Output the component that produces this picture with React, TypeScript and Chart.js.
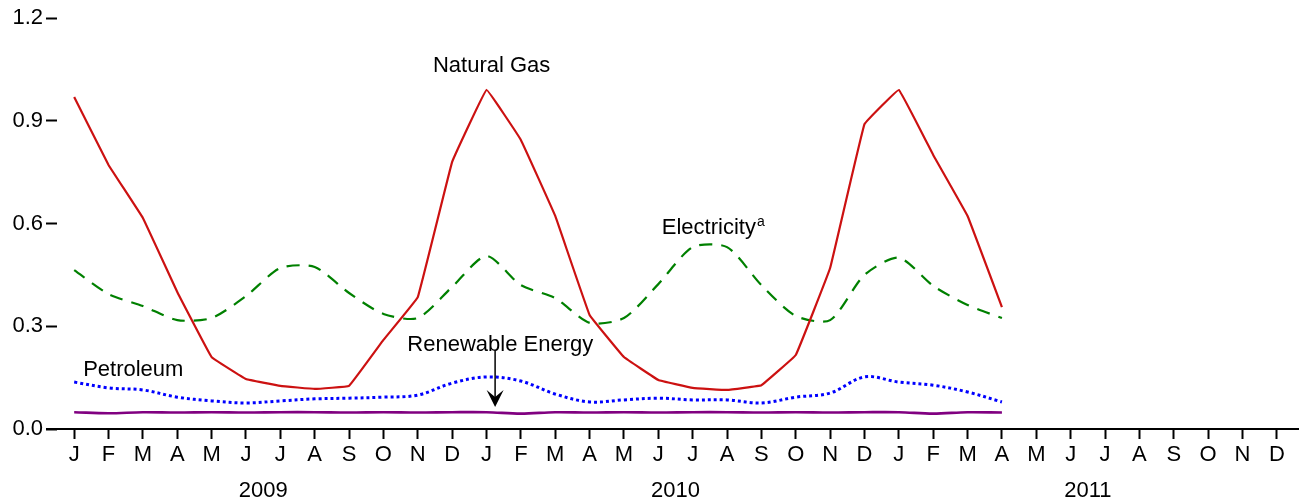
import React, { useEffect, useRef } from "react";
import { Chart, registerables } from "chart.js";

Chart.register(...registerables);

const monthLetters = ["J", "F", "M", "A", "M", "J", "J", "A", "S", "O", "N", "D"];
const years = ["2009", "2010", "2011"];
const categories = [...monthLetters, ...monthLetters, ...monthLetters];

const naturalGas = [
  0.969, 0.771, 0.616, 0.40, 0.21, 0.146, 0.126, 0.117, 0.126, 0.26, 0.385, 0.78,
  0.99, 0.844, 0.622, 0.333, 0.21, 0.143, 0.12, 0.114, 0.128, 0.216, 0.47, 0.89,
  0.99, 0.80, 0.622, 0.356,
];
const electricity = [
  0.464, 0.394, 0.359, 0.318, 0.324, 0.388, 0.47, 0.473, 0.397, 0.336, 0.324, 0.415,
  0.505, 0.42, 0.382, 0.31, 0.324, 0.423, 0.531, 0.531, 0.42, 0.33, 0.318, 0.45,
  0.50, 0.418, 0.362, 0.324,
];
const petroleum = [
  0.137, 0.12, 0.114, 0.093, 0.082, 0.076, 0.082, 0.088, 0.09, 0.093, 0.099, 0.134,
  0.152, 0.14, 0.102, 0.079, 0.085, 0.09, 0.085, 0.085, 0.076, 0.093, 0.105, 0.152,
  0.137, 0.128, 0.108, 0.079,
];
const renewable = [
  0.049, 0.046, 0.049, 0.048, 0.049, 0.048, 0.049, 0.049, 0.048, 0.049, 0.048, 0.049,
  0.049, 0.045, 0.049, 0.048, 0.049, 0.048, 0.049, 0.049, 0.048, 0.049, 0.048, 0.049,
  0.049, 0.045, 0.049, 0.048,
];
const yTicks = [0, 0.3, 0.6, 0.9, 1.2];

// label annotations: [text, category index, value]
const seriesLabels: [string, number, number][] = [
  ["Natural Gas", 12.15, 1.06],
  ["Petroleum", 1.72, 0.172],
  ["Renewable Energy", 12.4, 0.245],
];

const FONT = "'Liberation Sans', Arial, Helvetica, sans-serif";
const FONT_SIZE = 22;

const annotationPlugin = {
  id: "annotations",
  afterDraw(chart: any) {
    const { ctx, scales } = chart;
    const x = scales.x;
    const y = scales.y;
    ctx.save();
    ctx.fillStyle = "#000";
    ctx.font = `${FONT_SIZE}px ${FONT}`;
    ctx.textAlign = "center";
    ctx.textBaseline = "middle";
    for (const [t, xi, v] of seriesLabels) {
      ctx.fillText(t, x.getPixelForValue(xi), y.getPixelForValue(v));
    }
    // Electricity with superscript a
    const ex = x.getPixelForValue(19.84);
    const ey = y.getPixelForValue(0.587);
    ctx.textAlign = "right";
    ctx.fillText("Electricity", ex, ey);
    ctx.textAlign = "left";
    ctx.font = `14px ${FONT}`;
    ctx.fillText("a", ex + 1, ey - 6);
    // arrow for renewable energy
    const ax = x.getPixelForValue(12.25);
    const ay1 = y.getPixelForValue(0.23);
    const ay2 = y.getPixelForValue(0.064);
    ctx.strokeStyle = "#000";
    ctx.lineWidth = 1.5;
    ctx.beginPath();
    ctx.moveTo(ax, ay1);
    ctx.lineTo(ax, ay2 - 4);
    ctx.stroke();
    ctx.fillStyle = "#000";
    ctx.beginPath();
    ctx.moveTo(ax, ay2);
    ctx.lineTo(ax - 8.5, ay2 - 17);
    ctx.lineTo(ax, ay2 - 10);
    ctx.lineTo(ax + 8.5, ay2 - 17);
    ctx.closePath();
    ctx.fill();
    // x axis line
    const y0 = y.getPixelForValue(0);
    ctx.lineWidth = 2;
    ctx.beginPath();
    ctx.moveTo(chart.chartArea.left - 11, y0);
    ctx.lineTo(chart.width, y0);
    ctx.stroke();
    // year labels
    ctx.font = `${FONT_SIZE}px ${FONT}`;
    ctx.textAlign = "center";
    ctx.textBaseline = "middle";
    years.forEach((yr, i) => {
      const cx = (x.getPixelForValue(i * 12) + x.getPixelForValue(i * 12 + 11)) / 2;
      ctx.fillText(yr, cx, 491);
    });
    ctx.restore();
  },
};

export default function App() {
  const ref = useRef<HTMLCanvasElement | null>(null);
  useEffect(() => {
    document.body.style.margin = "0";
    const canvas = ref.current!;
    const chart = new Chart(canvas, {
      type: "line",
      data: {
        labels: categories,
        datasets: [
          {
            label: "Natural Gas",
            data: naturalGas,
            borderColor: "#cc1111",
            borderWidth: 2.2,
            pointRadius: 0,
            tension: 0.05,
            fill: false,
          },
          {
            label: "Electricity",
            data: electricity,
            borderColor: "#008000",
            borderWidth: 2.2,
            borderDash: [13, 9],
            pointRadius: 0,
            tension: 0.25,
            fill: false,
          },
          {
            label: "Petroleum",
            data: petroleum,
            borderColor: "#0000ff",
            borderWidth: 3,
            borderDash: [3, 3],
            pointRadius: 0,
            tension: 0.35,
            fill: false,
          },
          {
            label: "Renewable Energy",
            data: renewable,
            borderColor: "#800080",
            borderWidth: 2.6,
            pointRadius: 0,
            tension: 0.35,
            fill: false,
          },
        ],
      },
      options: {
        responsive: true,
        maintainAspectRatio: false,
        animation: false,
        layout: { padding: { top: 18, right: 5, left: 0, bottom: 0 } },
        plugins: {
          legend: { display: false },
          tooltip: { enabled: false },
          title: { display: false },
        },
        scales: {
          x: {
            type: "category",
            offset: true,
            border: { display: false },
            grid: {
              display: true,
              drawOnChartArea: false,
              drawTicks: true,
              tickLength: 10,
              tickWidth: 2,
              tickColor: "#000",
              offset: false,
            },
            ticks: {
              color: "#000",
              font: { family: FONT, size: FONT_SIZE },
              padding: 3,
              maxRotation: 0,
              autoSkip: false,
            },
            afterFit(scale: any) {
              scale.height = 75;
            },
          },
          y: {
            min: 0,
            max: 1.2,
            border: { display: false },
            grid: {
              display: true,
              drawOnChartArea: false,
              drawTicks: true,
              tickLength: 11,
              tickWidth: 2,
              tickColor: "#000",
            },
            afterBuildTicks(scale: any) {
              scale.ticks = yTicks.map((v) => ({ value: v }));
            },
            ticks: {
              color: "#000",
              font: { family: FONT, size: FONT_SIZE },
              padding: 3,
              callback: (v: any) => Number(v).toFixed(1),
            },
            afterFit(scale: any) {
              scale.width = 57;
            },
          },
        },
      },
      plugins: [annotationPlugin],
    });
    return () => chart.destroy();
  }, []);
  return (
    <div style={{ width: 1299, height: 504, position: "relative" }}>
      <canvas ref={ref} />
    </div>
  );
}
